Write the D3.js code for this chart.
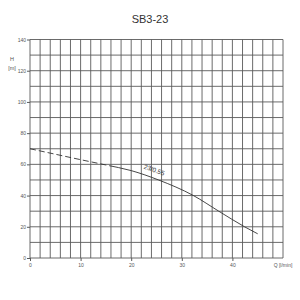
<!DOCTYPE html>
<html>
<head>
<meta charset="utf-8">
<script src="https://cdn.jsdelivr.net/npm/d3@7"></script>
<style>
  body { margin: 0; background: #fff; }
  svg { display: block; font-family: "Liberation Sans", Arial, sans-serif; }
</style>
</head>
<body>
<div id="chart"></div>
<script>
// curve
const flow = [0, 5, 10, 15, 20, 25.4, 32.3, 37.3, 42.4, 45];
const head = [70, 66.5, 63, 59.6, 56, 50, 40, 30, 20, 15.5];
const dash_until = 16;
const y_ticks = [0, 20, 40, 60, 80, 100, 120, 140];
const x_ticks = [0, 10, 20, 30, 40];
const title = "SB3-23";
const curve_label = "23/0.55";

const W = 300, H = 300;
const svg = d3.select("#chart").append("svg").attr("width", W).attr("height", H);

const x = d3.scaleLinear().domain([0, 50]).range([30, 283]);
const y = d3.scaleLinear().domain([0, 140]).range([258, 39.5]);

svg.append("text")
  .attr("x", 150).attr("y", 23)
  .attr("text-anchor", "middle")
  .attr("font-size", 11)
  .attr("fill", "#333")
  .text(title);

// grid
const grid = svg.append("g").attr("stroke", "#5a5a5a").attr("stroke-width", 0.9);
grid.selectAll("line.v")
  .data(d3.range(0, 51, 2))
  .join("line")
  .attr("x1", d => x(d)).attr("x2", d => x(d))
  .attr("y1", y(0)).attr("y2", y(140));
grid.selectAll("line.h")
  .data(d3.range(0, 141, 10))
  .join("line")
  .attr("x1", x(0)).attr("x2", x(50))
  .attr("y1", d => y(d)).attr("y2", d => y(d));

// axes
const yAxis = d3.axisLeft(y).tickValues(y_ticks).tickSize(3).tickPadding(1);
const xAxis = d3.axisBottom(x).tickValues(x_ticks).tickSize(3).tickPadding(2);
const gy = svg.append("g").attr("transform", `translate(${x(0)},0)`).call(yAxis);
const gx = svg.append("g").attr("transform", `translate(0,${y(0)})`).call(xAxis);
[gy, gx].forEach(g => {
  g.select(".domain").remove();
  g.selectAll("line").attr("stroke", "#5a5a5a");
  g.selectAll("text").attr("font-size", 5).attr("fill", "#555").attr("font-family", null);
});

svg.append("text").attr("x", 12).attr("y", 61).attr("text-anchor", "middle")
  .attr("font-size", 5.5).attr("fill", "#555").text("H");
svg.append("text").attr("x", 12).attr("y", 70).attr("text-anchor", "middle")
  .attr("font-size", 5.5).attr("fill", "#555").text("[m]");
svg.append("text").attr("x", x(50)).attr("y", 267).attr("text-anchor", "middle")
  .attr("font-size", 5).attr("fill", "#555").text("Q [l/min]");

// pump curve
const pts = flow.map((q, i) => [q, head[i]]);
const line = d3.line().x(d => x(d[0])).y(d => y(d[1])).curve(d3.curveMonotoneX);
const defs = svg.append("defs");
defs.append("clipPath").attr("id", "c1").append("rect")
  .attr("x", 0).attr("y", 0).attr("width", x(dash_until)).attr("height", H);
defs.append("clipPath").attr("id", "c2").append("rect")
  .attr("x", x(dash_until)).attr("y", 0).attr("width", W).attr("height", H);
svg.append("path").datum(pts).attr("d", line)
  .attr("fill", "none").attr("stroke", "#333").attr("stroke-width", 0.9)
  .attr("stroke-dasharray", "6,3").attr("clip-path", "url(#c1)");
svg.append("path").datum(pts).attr("d", line)
  .attr("fill", "none").attr("stroke", "#333").attr("stroke-width", 0.9)
  .attr("clip-path", "url(#c2)");

// label along the curve
const lx = x(24.4), ly = y(51.2);
svg.append("text")
  .attr("transform", `translate(${lx},${ly - 6}) rotate(20)`)
  .attr("text-anchor", "middle")
  .attr("font-size", 6.5)
  .attr("fill", "#333")
  .text(curve_label);
</script>
</body>
</html>
